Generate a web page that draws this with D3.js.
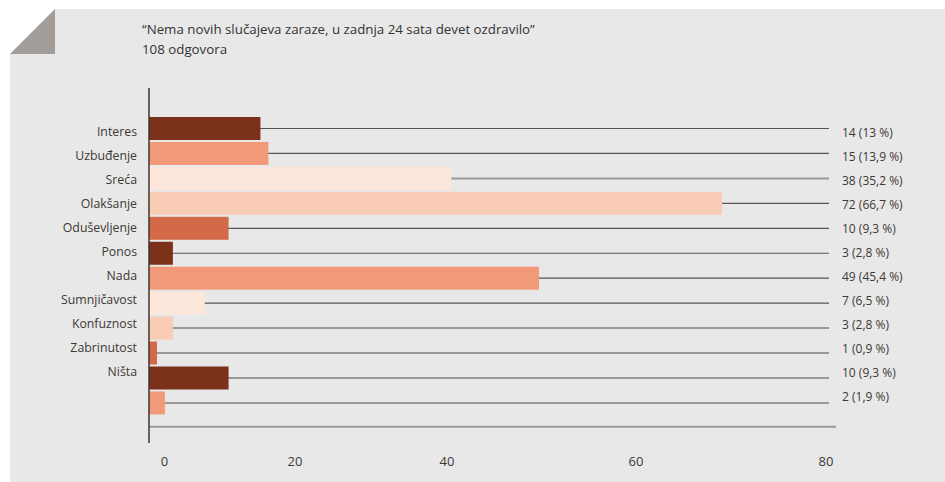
<!DOCTYPE html>
<html>
<head>
<meta charset="utf-8">
<script src="https://cdn.jsdelivr.net/npm/d3@7"></script>
<style>
  html, body { margin: 0; padding: 0; background: #ffffff; }
  svg { display: block; font-family: "Open Sans", "Noto Sans", sans-serif; }
</style>
</head>
<body>
<svg id="chart" width="945" height="482"></svg>
<script>
// Survey answers: emotions after the news headline
const title = "“Nema novih slučajeva zaraze, u zadnja 24 sata devet ozdravilo”";
const subtitle = "108 odgovora";
const categories = ["Interes", "Uzbuđenje", "Sreća", "Olakšanje", "Oduševljenje", "Ponos",
                    "Nada", "Sumnjičavost", "Konfuznost", "Zabrinutost", "Ništa", ""];
const counts = [14, 15, 38, 72, 10, 3, 49, 7, 3, 1, 10, 2];
const percents = ["13", "13,9", "35,2", "66,7", "9,3", "2,8", "45,4", "6,5", "2,8", "0,9", "9,3", "1,9"];
const tickValues = [0, 20, 40, 60, 80];

// Styling
const palette = ["#7b3119", "#f29a78", "#fde6da", "#f9cdb5", "#d4694a"];
const guideDark = { stroke: "#5a5552", width: 1.2 };
const guideLight = { stroke: "#9d9894", width: 2 };
const guideStyle = [guideDark, guideDark, guideLight, guideDark, guideDark, guideDark,
                    guideDark, guideDark, guideLight, guideLight, guideLight, guideLight];

const svg = d3.select("#chart");

// Panel with folded corner
svg.append("path")
  .attr("d", "M55,9 L945,9 L945,482 L10,482 L10,54 Z")
  .attr("fill", "#e8e8e8");
svg.append("path")
  .attr("d", "M10,54 L55,9 L55,54 Z")
  .attr("fill", "#a29d98");

// Title
svg.append("text").attr("x", 142).attr("y", 34)
  .attr("font-size", 13.3).attr("fill", "#333").text(title);
svg.append("text").attr("x", 142).attr("y", 54)
  .attr("font-size", 13.3).attr("fill", "#333").text(subtitle);

// Scales
const x = d3.scaleLinear().domain([0, 80]).range([149, 785.7]);
const rows = d3.range(counts.length);
const y = d3.scaleBand().domain(rows).range([117, 414.45]).paddingInner(0.078).paddingOuter(0);
const labelY = d3.scalePoint().domain(rows).range([131.7, 131.7 + 24 * 11]);
// tick label placement along the bottom
const tickX = d3.scaleLinear().domain(tickValues).range([164.5, 295, 447, 636, 826]);

// Guide lines behind the bars
svg.append("g").selectAll("line").data(rows).join("line")
  .attr("x1", x(0)).attr("x2", 829)
  .attr("y1", i => y(i) + y.bandwidth() / 2)
  .attr("y2", i => y(i) + y.bandwidth() / 2)
  .attr("stroke", i => guideStyle[i].stroke)
  .attr("stroke-width", i => guideStyle[i].width);

// Bottom baseline
svg.append("line")
  .attr("x1", x(0)).attr("x2", 836).attr("y1", 426.7).attr("y2", 426.7)
  .attr("stroke", "#9d9894").attr("stroke-width", 2);

// Bars
svg.append("g").selectAll("rect").data(rows).join("rect")
  .attr("x", x(0))
  .attr("y", i => y(i))
  .attr("width", i => x(counts[i]) - x(0))
  .attr("height", y.bandwidth())
  .attr("fill", i => palette[i % palette.length]);

// Vertical axis line
svg.append("line")
  .attr("x1", x(0)).attr("x2", x(0)).attr("y1", 88).attr("y2", 443)
  .attr("stroke", "#3a3633").attr("stroke-width", 1.5);

// Category labels
svg.append("g").selectAll("text").data(rows.filter(i => categories[i])).join("text")
  .attr("x", 137).attr("y", i => labelY(i))
  .attr("dy", "0.35em")
  .attr("text-anchor", "end")
  .attr("font-size", 12.3).attr("fill", "#3d3935")
  .text(i => categories[i]);

// Value labels
svg.append("g").selectAll("text").data(rows).join("text")
  .attr("x", 842).attr("y", i => labelY(i) + 1.5)
  .attr("dy", "0.35em")
  .attr("font-size", 12).attr("fill", "#3d3935")
  .text(i => `${counts[i]} (${percents[i]} %)`);

// Tick labels
svg.append("g").selectAll("text").data(tickValues).join("text")
  .attr("x", d => tickX(d)).attr("y", 461)
  .attr("dy", "0.35em")
  .attr("text-anchor", "middle")
  .attr("font-size", 13).attr("fill", "#3d3935")
  .text(d => d);
</script>
</body>
</html>
